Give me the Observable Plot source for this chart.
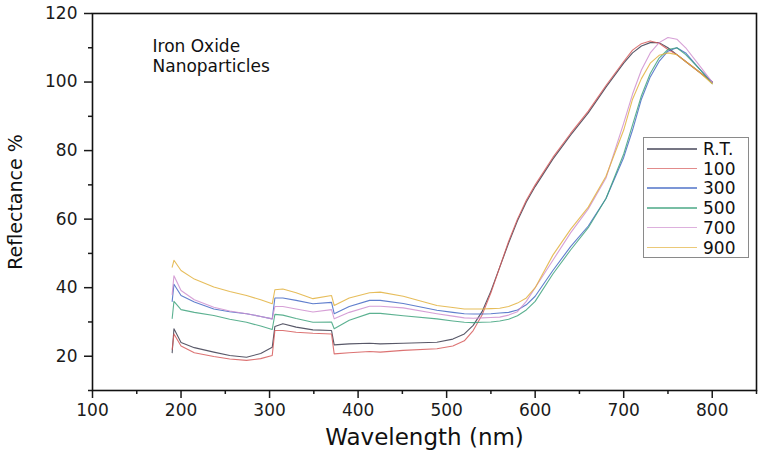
<!DOCTYPE html>
<html><head><meta charset="utf-8">
<script src="https://cdn.jsdelivr.net/npm/d3@7"></script>
<script src="https://cdn.jsdelivr.net/npm/@observablehq/plot@0.6"></script>
<style>
body{margin:0;background:#fff;font-family:"DejaVu Sans",sans-serif;}
#wrap{position:relative;width:762px;height:454px;}
#legend{position:absolute;left:643px;top:137px;width:106px;height:121px;border:1.5px solid #8a8a8a;background:#fff;box-sizing:border-box;}
.row{position:absolute;left:0;width:104px;height:20px;}
.row .ln{position:absolute;left:3px;top:9px;width:50px;height:1.5px;}
.row .tx{position:absolute;left:59px;top:0;font-size:17px;line-height:20px;color:#111;}
</style></head><body><div id="wrap"></div>
<script>
const wavelength = [190,192,200,215,237,255,274,290,303,306,315,330,349,370,373,390,413,425,451,489,507,520,530,540,550,560,570,580,590,600,620,640,660,680,700,710,720,730,740,750,760,770,785,800];
const seriesNames = ["R.T.","100","300","500","700","900"];
const seriesColors = ["#3b3b4e","#d65a5a","#4469c4","#3fa37e","#cf8fcf","#e2b23e"];
const rt = [21,28,24,22.5,21.2,20.2,19.7,20.8,22.6,28.7,29.5,28.5,27.7,27.5,23.3,23.6,23.8,23.6,23.8,24.1,25,26.5,29,33,39,46,53,59.5,65,69.5,77.5,84.5,91,98.5,105.5,108.5,110.5,111.5,111.5,110,108,106,103,100];
const t100 = [22,26.5,23,21,19.9,19.2,18.8,19.3,20.2,27.5,27.5,27,26.7,26.5,20.7,21,21.4,21.2,21.7,22.2,23,24.5,27.5,32,38.5,46,53.5,60,65.5,70,78,85,91.5,99,106,109.3,111.2,112,111.3,109.5,108,106,103,100];
const t300 = [36,41,37.7,35.8,33.8,33,32.4,31.6,30.9,37,37,36.3,35.3,35.7,32.4,34.5,36.3,36.3,35.4,33.4,32.8,32.4,32.3,32.3,32.4,32.6,32.8,33.5,35,37.5,45,52,58,66,78,86,95,101.5,106,109,110,108.5,104,100];
const t500 = [31,36,33.6,32.8,31.9,30.8,29.9,28.8,27.8,32.2,32,31,29.9,30,28,30.5,32.5,32.5,31.8,30.9,30.3,29.9,29.8,29.9,30,30.3,30.8,31.8,33.5,36,44,51,57.5,66,79,87.5,96,102.5,107,109.5,110,108,104,99.5];
const t700 = [38,43.5,39.2,36.5,34.3,33.2,32.4,31.6,30.9,34.5,34.5,33.8,32.9,33.6,30.9,32.8,34.6,34.6,34.1,32.4,31.7,31.2,31.1,31.2,31.3,31.4,32,33,36,40,48,56,63,72,88,96.5,103.5,108.5,111.5,113,112.5,110,105,100];
const t900 = [46,48,45,42.5,40.2,38.9,37.7,36.5,35.3,39.4,39.6,38.5,36.8,37.7,34.8,37,38.5,38.7,37.5,34.8,34.2,33.8,33.8,33.8,33.9,34,34.5,35.5,37,40,49.5,57,63.5,72.5,86,95,101,105.5,107.8,108.5,108,106,103,99.5];
const xTicks = [100,200,300,400,500,600,700,800];
const xMinor = [150,250,350,450,550,650,750,850];
const yTicks = [20,40,60,80,100,120];
const yMinor = [10,30,50,70,90,110];

const seriesValues = [rt,t100,t300,t500,t700,t900];
const data = seriesNames.flatMap((s,i)=>wavelength.map((w,j)=>({s, wl:w, v:seriesValues[i][j]})));

const chart = Plot.plot({
  width:762, height:454,
  marginLeft:92, marginRight:6, marginTop:13, marginBottom:64,
  style:{fontFamily:"DejaVu Sans", fontSize:"17px", color:"#1a1a1a", background:"#fff", overflow:"visible"},
  x:{domain:[100,850]},
  y:{domain:[10,120]},
  color:{domain:seriesNames, range:seriesColors},
  marks:[
    Plot.line(data,{x:"wl", y:"v", z:"s", stroke:"s", strokeWidth:1.1, strokeOpacity:0.85, curve:"linear"}),
    Plot.axisX({ticks:xTicks, tickSize:8, tickPadding:5, label:null, fontSize:17, strokeWidth:1.5}),
    Plot.axisX({ticks:xMinor, tickSize:4, text:null, label:null, strokeWidth:1.5}),
    Plot.axisY({ticks:yTicks, tickSize:8, tickPadding:7, label:null, fontSize:17, strokeWidth:1.5}),
    Plot.axisY({ticks:yMinor, tickSize:4, text:null, label:null, strokeWidth:1.5}),
    Plot.frame({stroke:"#111", strokeWidth:1.6}),
    Plot.text(["Iron Oxide\nNanoparticles"],{frameAnchor:"top-left", dx:60, dy:24, lineAnchor:"top", textAnchor:"start", fontSize:17, lineHeight:1.2, fill:"#111"}),
    Plot.text(["Wavelength (nm)"],{frameAnchor:"bottom", dy:47, fontSize:23, lineAnchor:"middle", textAnchor:"middle", fill:"#111"}),
    Plot.text(["Reflectance %"],{frameAnchor:"left", dx:-77, rotate:-90, fontSize:19, lineAnchor:"middle", textAnchor:"middle", fill:"#111"})
  ]
});
const wrap = document.getElementById("wrap");
wrap.appendChild(chart);
const legend = document.createElement("div");
legend.id = "legend";
seriesNames.forEach((s,i)=>{
  const r = document.createElement("div");
  r.className = "row";
  r.style.top = (1 + i*19.7) + "px";
  const ln = document.createElement("div");
  ln.className = "ln";
  ln.style.background = seriesColors[i];
  ln.style.opacity = 0.7;
  const tx = document.createElement("div");
  tx.className = "tx";
  tx.textContent = s;
  r.appendChild(ln); r.appendChild(tx);
  legend.appendChild(r);
});
wrap.appendChild(legend);
</script></body></html>
